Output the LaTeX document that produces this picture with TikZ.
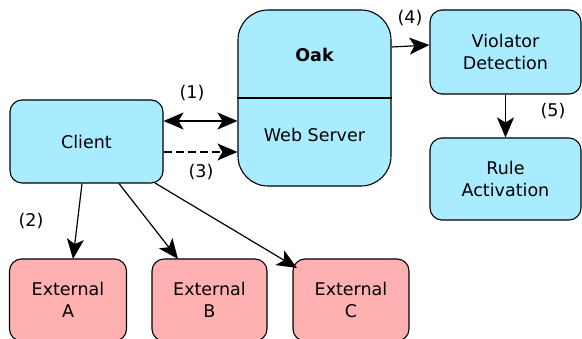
\documentclass[tikz,border=0pt]{standalone}
\usepackage{fontspec}
\setmainfont{DejaVu Sans}
\usetikzlibrary{arrows.meta}
\definecolor{boxblue}{RGB}{170,236,255}
\definecolor{boxred}{RGB}{255,176,176}
\tikzset{
  tip/.tip={Stealth[length=20pt,width=17pt,inset=5pt]},
  bluebox/.style={draw=black, line width=1.1pt, fill=boxblue, rounded corners=12pt, align=center, font=\fontsize{17.5}{22}\selectfont, inner sep=0pt},
  redbox/.style={draw=black, line width=1.1pt, fill=boxred, rounded corners=12pt, align=center, font=\fontsize{17.5}{22}\selectfont, inner sep=0pt},
  conn/.style={line width=1.2pt, -tip},
  lbl/.style={font=\fontsize{17.5}{20}\selectfont, inner sep=0pt}
}
\begin{document}
\begin{tikzpicture}[x=1pt,y=-1pt]
\useasboundingbox (0,0) rectangle (582,339);
\node[bluebox, minimum width=153pt, minimum height=83pt] (client) at (86.5,141.5) {Client};
\node[bluebox, rounded corners=30pt, minimum width=153pt, minimum height=176pt] (oak) at (314.5,98) {};
\node[font=\bfseries\fontsize{17.5}{20}\selectfont] (oaklbl) at (314.5,55) {Oak};
\node[font=\fontsize{17.5}{20}\selectfont] (web) at (314.5,135) {Web Server};
\draw[line width=1.1pt] (oak.west |- 0,98) -- (oak.east |- 0,98);
\node[bluebox, minimum width=151pt, minimum height=84pt] (viol) at (505.5,52) {Violator\\Detection};
\node[bluebox, minimum width=151pt, minimum height=82pt] (rule) at (505.5,179) {Rule\\Activation};
\node[redbox, minimum width=117pt, minimum height=82pt] (exta) at (68,300) {External\\A};
\node[redbox, minimum width=115pt, minimum height=82pt] (extb) at (209.5,300) {External\\B};
\node[redbox, minimum width=116pt, minimum height=82pt] (extc) at (351,300) {External\\C};
\coordinate (cl1) at (client.east |- 0,121);
\coordinate (cl3) at (client.east |- 0,152);
\coordinate (oa1) at (oak.west |- 0,121);
\coordinate (oa3) at (oak.west |- 0,152);
\draw[conn, tip-tip] (cl1) -- (oa1);
\draw[conn, dash pattern=on 8pt off 4pt] (cl3) -- (oa3);
\draw[conn] (oak.east |- 0,47) -- (viol.west |- 0,45);
\draw[conn] (viol.south) -- (rule.north);
\draw[conn] (client.south -| 82,0) -- (73,259);
\draw[conn] (client.south -| 119,0) -- (178,259);
\draw[conn] (155,183) -- (297,268);
\node[lbl] (l1) at (192,93) {(1)};
\node[lbl] (l3) at (201,172) {(3)};
\node[lbl] (l4) at (410,18) {(4)};
\node[lbl] (l5) at (553,111) {(5)};
\node[lbl] (l2) at (31,221) {(2)};
\end{tikzpicture}
\end{document}
